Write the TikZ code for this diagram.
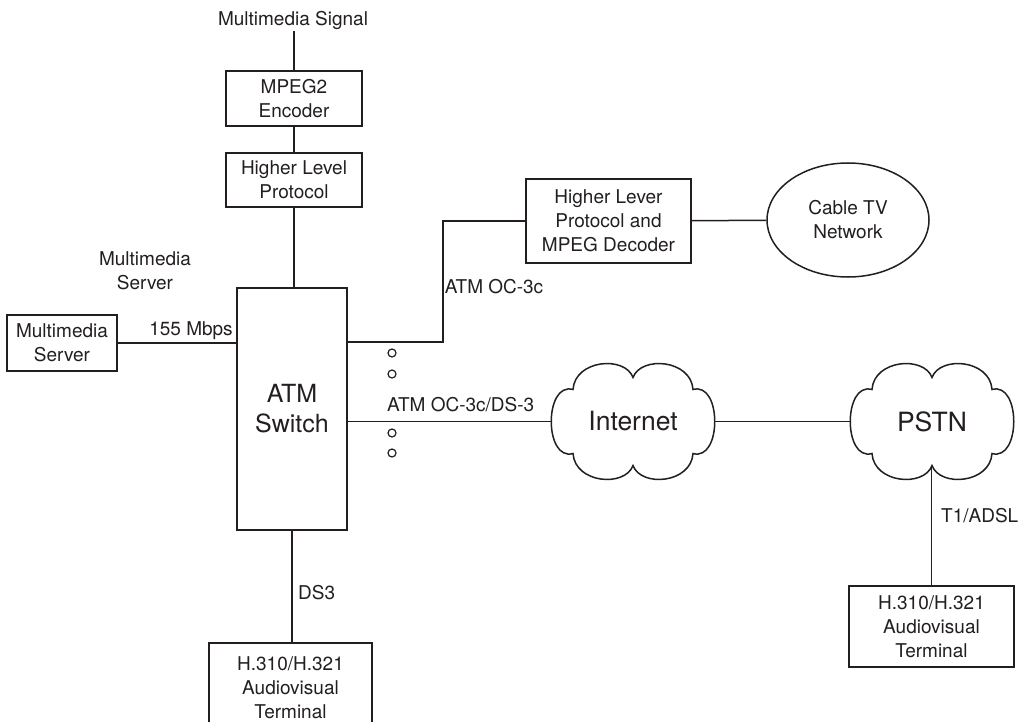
\documentclass[tikz,border=0pt]{standalone}
\usepackage{fontspec}
\setmainfont{TeX Gyre Heros}
\usetikzlibrary{shapes.geometric}
\definecolor{ink}{HTML}{231F20}
\tikzset{
  lbl/.style={font=\fontsize{19}{24}\selectfont, text=ink, align=center, inner sep=2pt},
  box/.style={draw=ink, line width=1.5pt, font=\fontsize{19}{24}\selectfont, text=ink,
              align=center, inner sep=0pt, minimum width=#1},
  cloudlbl/.style={font=\fontsize{26.5}{30}\selectfont, text=ink, inner sep=0pt,
                   minimum width=164pt, minimum height=114pt},
  wire/.style={draw=ink, line width=1.5pt},
  cloudpath/.style={draw=ink, line width=1.5pt}
}
% six-puff cloud outline around a given centre
\newcommand\puffcloud[1]{%
  \draw[cloudpath, shift={(#1)}]
    (-60,32) .. controls (-58,62) and (-8,66) .. (0,44)
    .. controls (8,66) and (58,62) .. (60,32)
    .. controls (89,40) and (89,-40) .. (60,-32)
    .. controls (58,-62) and (8,-66) .. (0,-44)
    .. controls (-8,-66) and (-58,-62) .. (-60,-32)
    .. controls (-89,-40) and (-89,40) .. cycle;}
\begin{document}
\begin{tikzpicture}[x=1pt, y=1pt]
\clip (0,0) rectangle (1027,-722);
\fill[white] (0,0) rectangle (1027,-722);

% encoder chain
\node[lbl] (sig) at (293,-20) {Multimedia Signal};
\node[box=136pt, minimum height=55pt] (enc) at (294,-98.5) {MPEG2\\Encoder};
\node[box=136pt, minimum height=54pt] (hlp) at (294,-180) {Higher Level\\Protocol};

% switch and server
\node[box=110pt, minimum height=242pt, font=\fontsize{25}{30}\selectfont] (sw) at (292,-409) {ATM\\Switch};
\node[lbl] (msl) at (145,-271) {Multimedia\\Server};
\node[box=110pt, minimum height=56pt] (ms) at (62,-343) {Multimedia\\Server};

% decoder branch
\node[box=165pt, minimum height=84pt] (hld) at (608.5,-221) {Higher Lever\\Protocol and\\MPEG Decoder};
\node[ellipse, draw=ink, line width=1.5pt, minimum width=162pt, minimum height=114pt,
      inner sep=0pt, align=center, font=\fontsize{19}{24}\selectfont, text=ink]
      (cable) at (848,-220) {Cable TV\\Network};

% clouds
\node[cloudlbl] (inet) at (633,-421.5) {Internet};
\node[cloudlbl] (pstn) at (932,-421.5) {PSTN};
\puffcloud{inet.center}
\puffcloud{pstn.center}

% terminals
\node[box=165pt, minimum height=81pt] (term2) at (931.5,-626.5) {H.310/H.321\\Audiovisual\\Terminal};
\node[box=163pt, minimum height=90pt] (term1) at (290.5,-688) {H.310/H.321\\Audiovisual\\Terminal};

% connectors
\draw[wire] (enc.north |- sig.south) -- (enc.north);
\draw[wire] (enc) -- (hlp);
\draw[wire] (hlp.south) -- (hlp.south |- sw.north);
\draw[wire] (ms.east) -- (ms.east -| sw.west);
\coordinate (bend) at (443,-342);
\draw[wire] (sw.east |- bend) -- (bend) |- (hld.west);
\draw[wire] (hld) -- (cable);
\draw[wire] (sw.east |- inet.west) -- (inet.west);
\draw[wire] (inet.east) -- (pstn.west);
\draw[wire] (term2.north) -- ([yshift=13pt]term2.north |- pstn.south);
\draw[wire] (sw.south) -- (sw.south |- term1.north);

% connector labels
\node[lbl] (l155) at (191,-331) {155 Mbps};
\node[lbl] (loc3) at (494,-287) {ATM OC-3c};
\node[lbl, anchor=west] (lds) at (385,-405) {ATM OC-3c/DS-3};
\node[lbl, anchor=west] (lt1) at (939,-516) {T1/ADSL};
\node[lbl, anchor=west] (lds3) at (296,-593) {DS3};

% port markers
\foreach \yy in {353,374,433,453}
  \draw[draw=ink, line width=1.2pt] (392,-\yy) circle (4pt);
\end{tikzpicture}
\end{document}
